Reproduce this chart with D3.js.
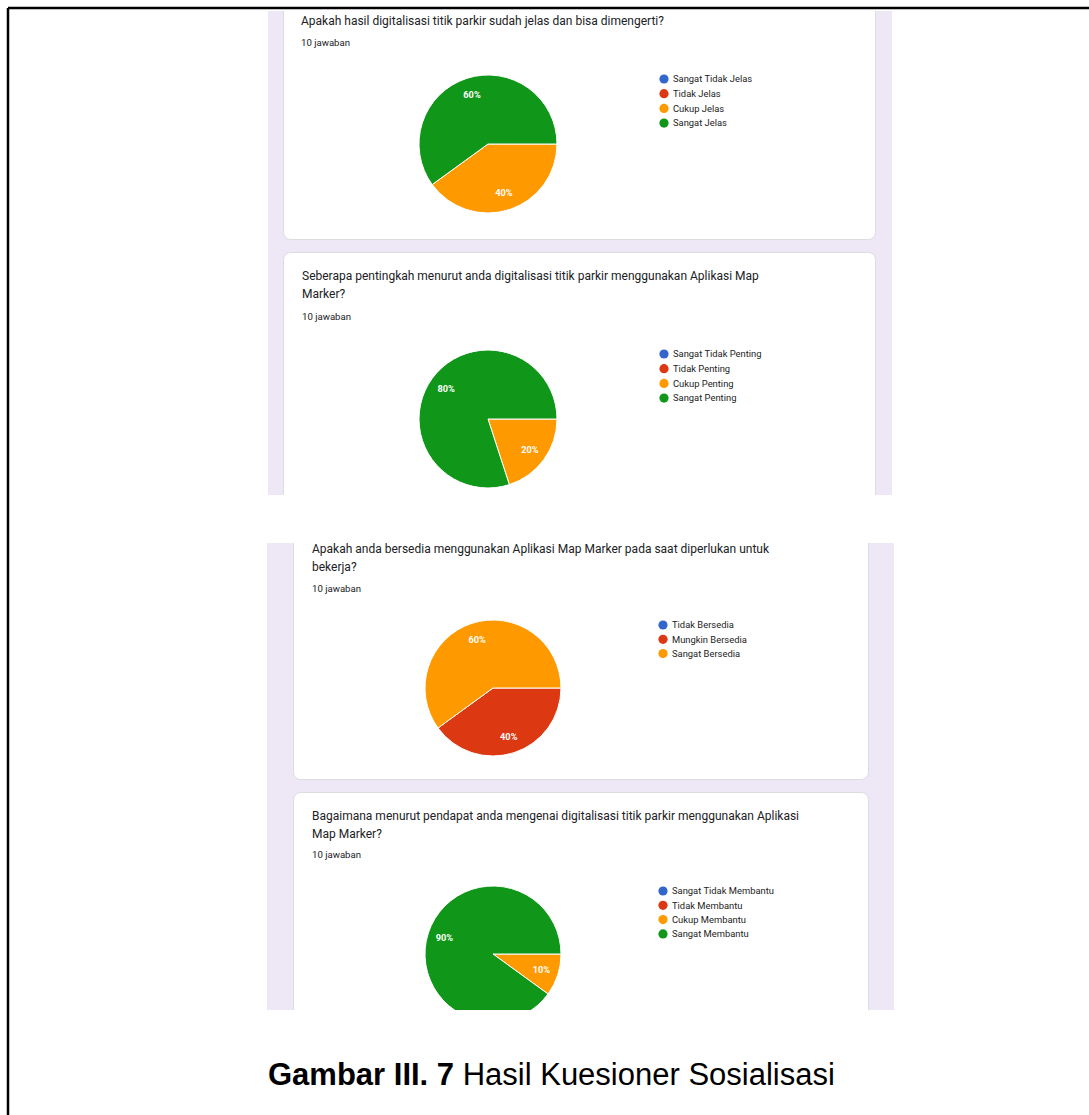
<!DOCTYPE html>
<html>
<head>
<meta charset="utf-8">
<script src="https://cdn.jsdelivr.net/npm/d3@7"></script>
<style>
  body { margin: 0; background: #fff; }
  svg { display: block; }
</style>
</head>
<body>
<div id="chart"></div>
<script>

// questionnaire data (10 respondents each)
var q1Title = ["Apakah hasil digitalisasi titik parkir sudah jelas dan bisa dimengerti?"];
var q1Labels = ["Sangat Tidak Jelas", "Tidak Jelas", "Cukup Jelas", "Sangat Jelas"];
var q1Counts = [0, 0, 4, 6];

var q2Title = ["Seberapa pentingkah menurut anda digitalisasi titik parkir menggunakan Aplikasi Map", "Marker?"];
var q2Labels = ["Sangat Tidak Penting", "Tidak Penting", "Cukup Penting", "Sangat Penting"];
var q2Counts = [0, 0, 2, 8];

var q3Title = ["Apakah anda bersedia menggunakan Aplikasi Map Marker pada saat diperlukan untuk", "bekerja?"];
var q3Labels = ["Tidak Bersedia", "Mungkin Bersedia", "Sangat Bersedia"];
var q3Counts = [0, 4, 6];

var q4Title = ["Bagaimana menurut pendapat anda mengenai digitalisasi titik parkir menggunakan Aplikasi", "Map Marker?"];
var q4Labels = ["Sangat Tidak Membantu", "Tidak Membantu", "Cukup Membantu", "Sangat Membantu"];
var q4Counts = [0, 0, 1, 9];

var responseText = "10 jawaban";
var sliceColors = ["#3366cc", "#dc3912", "#ff9900", "#109618"];
var captionBold = "Gambar III. 7";
var captionText = " Hasil Kuesioner Sosialisasi";

var width = 1089, height = 1115;

var svg = d3.select("#chart")
    .append("svg")
    .attr("width", width)
    .attr("height", height);

// page frame (top + left rule)
svg.append("line").attr("x1", 8).attr("x2", width).attr("y1", 8).attr("y2", 8)
    .attr("stroke", "#000").attr("stroke-width", 2.5);
svg.append("line").attr("x1", 8).attr("x2", 8).attr("y1", 8).attr("y2", height)
    .attr("stroke", "#000").attr("stroke-width", 2.5);

// the two cropped screenshots
var shots = [
    { id: "shot1", x: 268, y: 11, w: 624, h: 484, cardX: 283, cardW: 593 },
    { id: "shot2", x: 267, y: 543, w: 627, h: 467, cardX: 293, cardW: 576 }
];

var defs = svg.append("defs");
shots.forEach(function (s) {
    defs.append("clipPath").attr("id", s.id)
        .append("rect").attr("x", s.x).attr("y", s.y).attr("width", s.w).attr("height", s.h);
    s.g = svg.append("g").attr("clip-path", "url(#" + s.id + ")");
    s.g.append("rect")
        .attr("x", s.x).attr("y", s.y).attr("width", s.w).attr("height", s.h)
        .attr("fill", "#ede7f6");
});

// cards: top/bottom of each white card
var cards = [
    { shot: 0, top: -30, bottom: 240, textX: 301, title: q1Title, labels: q1Labels, counts: q1Counts,
      titleY: 25, jawabY: 46, cx: 488, cy: 144, r: 69, legX: 664, legY: 79, legStep: 14.7 },
    { shot: 0, top: 252, bottom: 560, textX: 302, title: q2Title, labels: q2Labels, counts: q2Counts,
      titleY: 280, jawabY: 320, cx: 488, cy: 419, r: 69, legX: 664, legY: 354, legStep: 14.7 },
    { shot: 1, top: 500, bottom: 780, textX: 312, title: q3Title, labels: q3Labels, counts: q3Counts,
      titleY: 553, jawabY: 592, cx: 493, cy: 688, r: 68, legX: 663, legY: 625, legStep: 14.3 },
    { shot: 1, top: 792, bottom: 1080, textX: 312, title: q4Title, labels: q4Labels, counts: q4Counts,
      titleY: 820, jawabY: 858, cx: 493, cy: 954, r: 68, legX: 663, legY: 891, legStep: 14.3 }
];

cards.forEach(function (c) {
    var s = shots[c.shot];
    var g = s.g.append("g");

    g.append("rect")
        .attr("x", s.cardX + 0.5).attr("y", c.top + 0.5)
        .attr("width", s.cardW - 1).attr("height", c.bottom - c.top - 1)
        .attr("rx", 7)
        .attr("fill", "#fff")
        .attr("stroke", "#dadce0");

    // question title
    g.selectAll(".qtitle")
        .data(c.title)
        .join("text")
        .attr("class", "qtitle")
        .attr("x", c.textX)
        .attr("y", function (d, i) { return c.titleY + i * 18; })
        .attr("font-family", "Roboto, sans-serif")
        .attr("font-size", "12px")
        .attr("fill", "#202124")
        .text(function (d) { return d; });

    g.append("text")
        .attr("x", c.textX)
        .attr("y", c.jawabY)
        .attr("font-family", "Roboto, sans-serif")
        .attr("font-size", "9.6px")
        .attr("fill", "#202124")
        .text(responseText);

    // pie, first slice starting at 3 o'clock, clockwise
    var total = d3.sum(c.counts);
    var pie = d3.pie().sort(null).startAngle(Math.PI / 2).endAngle(Math.PI / 2 + 2 * Math.PI);
    var arcs = pie(c.counts);
    var arc = d3.arc().innerRadius(0).outerRadius(c.r);
    var labelArc = d3.arc().innerRadius(c.r * 0.75).outerRadius(c.r * 0.75);

    var pg = g.append("g").attr("transform", "translate(" + c.cx + "," + c.cy + ")");
    pg.selectAll("path")
        .data(arcs.filter(function (d) { return d.value > 0; }))
        .join("path")
        .attr("d", arc)
        .attr("fill", function (d) { return sliceColors[d.index]; })
        .attr("stroke", "#fff")
        .attr("stroke-width", 1);

    pg.selectAll(".pct")
        .data(arcs.filter(function (d) { return d.value > 0; }))
        .join("text")
        .attr("class", "pct")
        .attr("transform", function (d) { return "translate(" + labelArc.centroid(d) + ")"; })
        .attr("dy", "0.35em")
        .attr("text-anchor", "middle")
        .attr("font-family", "Roboto, sans-serif")
        .attr("font-weight", "bold")
        .attr("font-size", "9.2px")
        .attr("fill", "#fff")
        .text(function (d) { return Math.round(d.value / total * 100) + "%"; });

    // legend
    var leg = g.selectAll(".leg")
        .data(c.labels)
        .join("g")
        .attr("class", "leg")
        .attr("transform", function (d, i) { return "translate(" + c.legX + "," + (c.legY + i * c.legStep) + ")"; });
    leg.append("circle").attr("r", 4.6).attr("fill", function (d, i) { return sliceColors[i]; });
    leg.append("text")
        .attr("x", 9)
        .attr("dy", "0.35em")
        .attr("font-family", "Roboto, sans-serif")
        .attr("font-size", "9.4px")
        .attr("fill", "#222")
        .text(function (d) { return d; });
});

// figure caption
var cap = svg.append("text")
    .attr("x", 268)
    .attr("y", 1085)
    .attr("font-family", "'Liberation Sans', Arial, sans-serif")
    .attr("font-size", "31px")
    .attr("fill", "#000");
cap.append("tspan").attr("font-weight", "bold").text(captionBold);
cap.append("tspan").text(captionText);

</script>
</body>
</html>
